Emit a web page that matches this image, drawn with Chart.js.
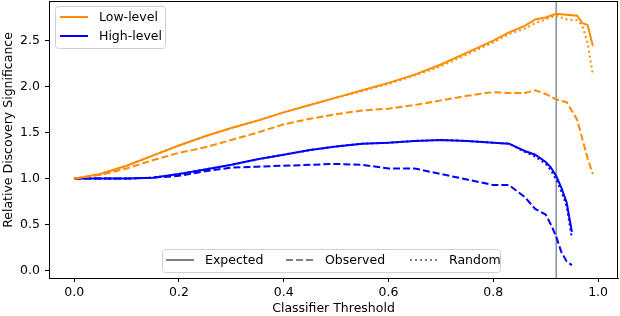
<!DOCTYPE html>
<html>
<head>
<meta charset="utf-8">
<script src="https://cdn.jsdelivr.net/npm/chart.js@4"></script>
<style>
  html, body { margin: 0; padding: 0; background: #fff; }
  #wrap { width: 620px; height: 316px; }
</style>
</head>
<body>
<div id="wrap"><canvas id="significance"></canvas></div>
<script>
// classifier thresholds
const lowThresholds = [0, 0.05, 0.1, 0.15, 0.2, 0.25, 0.3, 0.35, 0.4, 0.45, 0.5, 0.55, 0.6, 0.65, 0.7, 0.75, 0.8, 0.83, 0.86, 0.88, 0.9, 0.92, 0.94, 0.96, 0.97, 0.98, 0.99];
const lowExpected = [1.0, 1.05, 1.14, 1.25, 1.36, 1.46, 1.55, 1.63, 1.72, 1.8, 1.88, 1.96, 2.04, 2.13, 2.24, 2.37, 2.5, 2.59, 2.66, 2.73, 2.75, 2.79, 2.78, 2.77, 2.69, 2.67, 2.44];
const lowObserved = [1.0, 1.04, 1.11, 1.2, 1.28, 1.34, 1.42, 1.5, 1.59, 1.65, 1.7, 1.74, 1.76, 1.8, 1.85, 1.9, 1.94, 1.93, 1.93, 1.96, 1.92, 1.86, 1.83, 1.64, 1.43, 1.22, 1.05];
const lowRandom = [1.0, 1.05, 1.14, 1.25, 1.36, 1.46, 1.55, 1.63, 1.72, 1.8, 1.88, 1.95, 2.03, 2.12, 2.22, 2.35, 2.48, 2.57, 2.63, 2.69, 2.73, 2.77, 2.73, 2.72, 2.66, 2.47, 2.13];

const highThresholds = [0, 0.05, 0.1, 0.15, 0.2, 0.25, 0.3, 0.35, 0.4, 0.45, 0.5, 0.55, 0.6, 0.65, 0.7, 0.75, 0.8, 0.83, 0.86, 0.88, 0.9, 0.91, 0.92, 0.93, 0.94, 0.95];
const highExpected = [1.0, 1.0, 1.0, 1.01, 1.05, 1.1, 1.15, 1.21, 1.26, 1.31, 1.35, 1.38, 1.39, 1.41, 1.42, 1.41, 1.39, 1.38, 1.3, 1.26, 1.18, 1.12, 1.03, 0.9, 0.74, 0.42];
const highObserved = [1.0, 1.0, 1.0, 1.01, 1.03, 1.08, 1.12, 1.13, 1.14, 1.15, 1.16, 1.15, 1.11, 1.11, 1.05, 0.99, 0.93, 0.93, 0.8, 0.67, 0.61, 0.5, 0.37, 0.2, 0.1, 0.06];
const highRandom = [1.0, 1.0, 1.0, 1.01, 1.05, 1.1, 1.15, 1.21, 1.26, 1.31, 1.35, 1.38, 1.39, 1.41, 1.42, 1.41, 1.39, 1.38, 1.29, 1.24, 1.16, 1.09, 0.99, 0.86, 0.7, 0.35];

const optimalThreshold = 0.92;

const xTicks = [0, 0.2, 0.4, 0.6, 0.8, 1.0];
const yTicks = [0, 0.5, 1.0, 1.5, 2.0, 2.5];
const xRange = [-0.048, 1.038];
const yRange = [-0.08, 2.93];

const ORANGE = "#ff8c00";
const BLUE = "#0000ff";
const GREY = "#808080";
const FONT = '"DejaVu Sans", sans-serif';

function points(xs, ys) {
  return xs.map((x, i) => ({ x: x, y: ys[i] }));
}

function series(label, xs, ys, color, dash) {
  return {
    label: label,
    data: points(xs, ys),
    borderColor: color,
    backgroundColor: color,
    borderWidth: 2,
    borderDash: dash,
    pointRadius: 0,
    showLine: true,
    tension: 0,
  };
}

const dashed = [7, 3];
const dotted = [2, 3];

// no extra room for half tick labels at the ends of the axes
function noEndPadding(scale) {
  scale.paddingTop = 0;
  scale.paddingBottom = 0;
  scale.paddingLeft = 0;
  scale.paddingRight = 0;
}

// box, axis titles and the two legends, drawn the way matplotlib lays them out
const decorations = {
  id: "decorations",
  afterDraw(chart) {
    const ctx = chart.ctx;
    const a = chart.chartArea;
    ctx.save();
    ctx.strokeStyle = "#000";
    ctx.lineWidth = 1;
    ctx.strokeRect(a.left + 0.5, a.top + 0.5, a.right - a.left - 1, a.bottom - a.top);

    ctx.fillStyle = "#000";
    ctx.font = "12.5px " + FONT;
    ctx.textAlign = "center";
    ctx.textBaseline = "middle";
    ctx.fillText("Classifier Threshold", (a.left + a.right) / 2, 309);
    ctx.save();
    ctx.translate(9, 130);
    ctx.rotate(-Math.PI / 2);
    ctx.fillText("Relative Discovery Significance", 0, 0);
    ctx.restore();

    function box(x, y, w, h) {
      ctx.beginPath();
      ctx.roundRect(x + 0.5, y + 0.5, w, h, 3);
      ctx.fillStyle = "rgba(255,255,255,0.8)";
      ctx.fill();
      ctx.strokeStyle = "#d0d0d0";
      ctx.lineWidth = 1;
      ctx.stroke();
    }

    function entry(x, y, color, dash, text) {
      ctx.beginPath();
      ctx.setLineDash(dash);
      ctx.strokeStyle = color;
      ctx.lineWidth = 2;
      ctx.moveTo(x, y);
      ctx.lineTo(x + 28, y);
      ctx.stroke();
      ctx.setLineDash([]);
      ctx.fillStyle = "#000";
      ctx.textAlign = "left";
      ctx.fillText(text, x + 39, y + 1);
    }

    box(55, 6, 110, 42);
    entry(60, 17, ORANGE, [], "Low-level");
    entry(60, 36, BLUE, [], "High-level");

    box(162, 249, 338, 23);
    entry(166, 260, GREY, [], "Expected");
    entry(286, 260, GREY, dashed, "Observed");
    entry(410, 260, GREY, dotted, "Random");
    ctx.restore();
  },
};

const ctx = document.getElementById("significance").getContext("2d");

new Chart(ctx, {
  type: "scatter",
  data: {
    datasets: [
      series("Low-level expected", lowThresholds, lowExpected, ORANGE, []),
      series("Low-level observed", lowThresholds, lowObserved, ORANGE, dashed),
      series("Low-level random", lowThresholds, lowRandom, ORANGE, dotted),
      series("High-level expected", highThresholds, highExpected, BLUE, []),
      series("High-level observed", highThresholds, highObserved, BLUE, dashed),
      series("High-level random", highThresholds, highRandom, BLUE, dotted),
      {
        label: "threshold",
        data: [
          { x: optimalThreshold, y: yRange[0] },
          { x: optimalThreshold, y: yRange[1] },
        ],
        borderColor: "#708090",
        borderWidth: 1.3,
        pointRadius: 0,
        showLine: true,
      },
    ],
  },
  options: {
    responsive: true,
    maintainAspectRatio: false,
    animation: false,
    layout: { padding: { top: 1, right: 2, left: 0, bottom: 0 } },
    plugins: {
      legend: { display: false },
      tooltip: { enabled: false },
    },
    scales: {
      x: {
        type: "linear",
        min: xRange[0],
        max: xRange[1],
        afterBuildTicks: (scale) => {
          scale.ticks = xTicks.map((v) => ({ value: v }));
        },
        afterFit: (scale) => {
          scale.height = 38;
          noEndPadding(scale);
        },
        grid: { display: true, drawOnChartArea: false, drawTicks: true, tickLength: 4, color: "#000" },
        border: { display: true, color: "#000", width: 1 },
        ticks: {
          color: "#000",
          font: { family: FONT, size: 12.5 },
          padding: 3,
          maxRotation: 0,
          callback: (v) => v.toFixed(1),
        },
      },
      y: {
        type: "linear",
        min: yRange[0],
        max: yRange[1],
        afterBuildTicks: (scale) => {
          scale.ticks = yTicks.map((v) => ({ value: v }));
        },
        afterFit: (scale) => {
          scale.width = 49;
          noEndPadding(scale);
        },
        grid: { display: true, drawOnChartArea: false, drawTicks: true, tickLength: 4, color: "#000" },
        border: { display: true, color: "#000", width: 1 },
        ticks: {
          color: "#000",
          font: { family: FONT, size: 12.5 },
          padding: 5,
          callback: (v) => v.toFixed(1),
        },
      },
    },
  },
  plugins: [decorations],
});
</script>
</body>
</html>
